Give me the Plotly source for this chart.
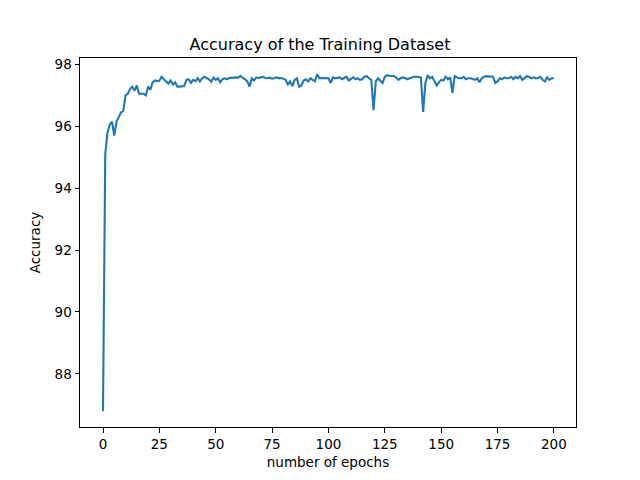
import plotly.graph_objects as go

epochs = list(range(201))
accuracy = [
    86.8, 95.1, 95.8, 96.05, 96.15, 95.7, 96.15, 96.3, 96.45, 96.5,
    97.0, 97.05, 97.2, 97.28, 97.15, 97.32, 97.05, 97.05, 97.05, 97.0,
    97.28, 97.18, 97.42, 97.48, 97.46, 97.47, 97.6, 97.52, 97.45, 97.38,
    97.48, 97.35, 97.42, 97.28, 97.28, 97.28, 97.3, 97.5, 97.52, 97.4,
    97.5, 97.46, 97.55, 97.45, 97.55, 97.6, 97.55, 97.52, 97.44, 97.57,
    97.5, 97.55, 97.42, 97.52, 97.55, 97.52, 97.56, 97.57, 97.58, 97.58,
    97.57, 97.63, 97.56, 97.52, 97.45, 97.28, 97.55, 97.48, 97.58, 97.56,
    97.58, 97.6, 97.56, 97.55, 97.57, 97.54, 97.55, 97.58, 97.55, 97.56,
    97.54, 97.5, 97.35, 97.45, 97.3, 97.5, 97.55, 97.28, 97.32, 97.48,
    97.52, 97.45, 97.55, 97.5, 97.45, 97.68, 97.55, 97.56, 97.55, 97.56,
    97.55, 97.4, 97.58, 97.55, 97.56, 97.58, 97.52, 97.55, 97.6, 97.48,
    97.52, 97.58, 97.52, 97.55, 97.5, 97.52, 97.6, 97.62, 97.55, 97.5,
    96.52, 97.45, 97.55, 97.48, 97.4, 97.6, 97.65, 97.63, 97.62, 97.62,
    97.58, 97.5, 97.55, 97.58, 97.56, 97.52, 97.55, 97.58, 97.6, 97.6,
    97.6, 97.58, 96.46, 97.4, 97.65, 97.55, 97.6, 97.45, 97.32, 97.42,
    97.5, 97.48, 97.6, 97.52, 97.58, 97.08, 97.62, 97.58, 97.55, 97.55,
    97.6, 97.52, 97.55, 97.55, 97.52, 97.5, 97.55, 97.42, 97.55, 97.6,
    97.62, 97.62, 97.6, 97.6, 97.4, 97.45, 97.55, 97.52, 97.58, 97.55,
    97.55, 97.6, 97.52, 97.6, 97.55, 97.62, 97.5, 97.55, 97.62, 97.6,
    97.55, 97.58, 97.55, 97.56, 97.6, 97.5, 97.45, 97.58, 97.5, 97.55,
    97.55,
]
x_ticks = [0, 25, 50, 75, 100, 125, 150, 175, 200]
y_ticks = [88, 90, 92, 94, 96, 98]

fig = go.Figure(go.Scatter(x=epochs, y=accuracy, mode="lines",
                           line=dict(color="#1f77b4", width=2.1),
                           hoverinfo="skip"))

axis_common = dict(showline=True, linecolor="black", linewidth=1, mirror=True,
                   ticks="outside", ticklen=4.5, tickcolor="black", tickwidth=1,
                   showgrid=False, zeroline=False,
                   tickfont=dict(family="DejaVu Sans", size=13.5, color="black"))

fig.update_layout(
    width=640, height=480,
    margin=dict(l=80, r=64, t=58, b=53),
    paper_bgcolor="white", plot_bgcolor="white",
    showlegend=False,
    title=dict(text="Accuracy of the Training Dataset", x=0.5, xanchor="center",
               y=1 - 44 / 480, yanchor="middle",
               font=dict(family="DejaVu Sans", size=16, color="black")),
    xaxis=dict(range=[-10.2, 209.8], tickvals=x_ticks,
               title=dict(text="number of epochs", standoff=6,
                          font=dict(family="DejaVu Sans", size=13.5, color="black")),
               **axis_common),
    yaxis=dict(range=[86.284, 98.206], tickvals=y_ticks,
               title=dict(text="Accuracy", standoff=10,
                          font=dict(family="DejaVu Sans", size=13.5, color="black")),
               **axis_common),
)

fig.write_html("out.html",
               config={"displayModeBar": False, "staticPlot": True},
               post_script="document.body.style.margin='0';document.body.style.overflow='hidden';")
